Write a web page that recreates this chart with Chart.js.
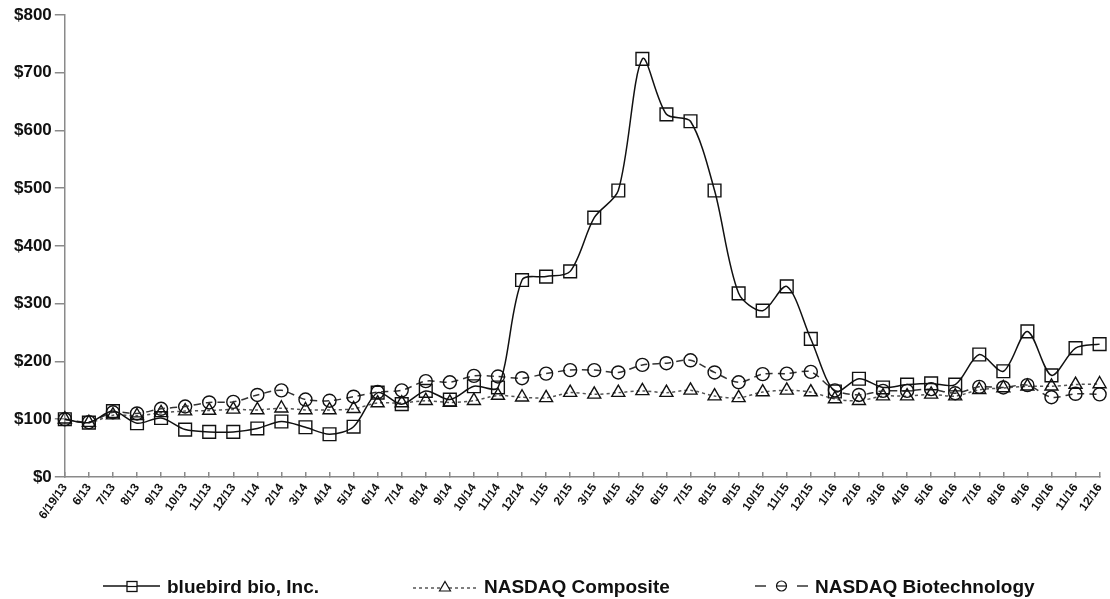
<!DOCTYPE html>
<html>
<head>
<meta charset="utf-8">
<script src="https://cdn.jsdelivr.net/npm/chart.js@4"></script>
<style>
  html, body { margin: 0; padding: 0; background: #fff; }
  #wrap { position: relative; width: 1110px; height: 599px; overflow: hidden; }
  #legend { position: absolute; left: 0; top: 576px; width: 1110px; height: 22px;
            font-family: "Liberation Sans", Arial, sans-serif; font-weight: bold; font-size: 19px; color: #111; }
  .legend-item { position: absolute; top: 0; white-space: nowrap; line-height: 22px; }
  .legend-item svg { vertical-align: middle; margin-right: 7px; position: relative; top: -2px; }
</style>
</head>
<body>
<div id="wrap">
  <canvas id="chart" width="1110" height="599"></canvas>
  <div id="legend"></div>
</div>
<script>
// 月份标签
const labels = ['6/19/13', '6/13', '7/13', '8/13', '9/13', '10/13', '11/13', '12/13',
  '1/14', '2/14', '3/14', '4/14', '5/14', '6/14', '7/14', '8/14', '9/14', '10/14', '11/14', '12/14',
  '1/15', '2/15', '3/15', '4/15', '5/15', '6/15', '7/15', '8/15', '9/15', '10/15', '11/15', '12/15',
  '1/16', '2/16', '3/16', '4/16', '5/16', '6/16', '7/16', '8/16', '9/16', '10/16', '11/16', '12/16'];

// 三条序列
const bluebird = [100, 94, 114, 93, 102, 82, 78, 78, 84, 96, 86, 74, 87, 146, 126, 149, 134, 157, 155, 341,
  347, 356, 449, 496, 724, 628, 616, 496, 318, 288, 330, 239,
  148, 170, 155, 160, 162, 160, 212, 183, 252, 176, 223, 230];
const nasdaqComposite = [100, 94, 107, 106, 111, 114, 115, 117, 116, 119, 116, 116, 118, 128, 128, 132, 129, 132, 141, 138,
  137, 146, 143, 146, 149, 146, 150, 140, 137, 147, 150, 147,
  135, 132, 140, 140, 143, 140, 151, 154, 157, 157, 160, 161];
const nasdaqBiotech = [100, 95, 112, 110, 118, 122, 129, 130, 142, 150, 134, 132, 139, 147, 150, 166, 164, 175, 174, 171,
  179, 185, 185, 181, 194, 197, 202, 181, 164, 178, 179, 182,
  150, 142, 149, 149, 152, 145, 156, 155, 159, 138, 144, 143];

const seriesNames = ['bluebird bio, Inc.', 'NASDAQ Composite', 'NASDAQ Biotechnology'];

// y轴范围
const yMin = 0, yMax = 800, yStep = 100;

const AXIS_COLOR = '#8a8a8a';
const FONT = '"Liberation Sans", Arial, sans-serif';

function lineSeries(label, data, opts) {
  return Object.assign({
    label: label,
    data: data,
    borderColor: '#111',
    borderWidth: 1.5,
    pointBackgroundColor: 'rgba(0,0,0,0)',
    pointBorderColor: '#111',
    pointBorderWidth: 1.4,
    tension: 0.3,
    fill: false,
    clip: false
  }, opts);
}

new Chart(document.getElementById('chart'), {
  type: 'line',
  data: {
    labels: labels,
    datasets: [
      lineSeries(seriesNames[0], bluebird, { pointStyle: 'rect', pointRadius: 9, order: 1 }),
      lineSeries(seriesNames[1], nasdaqComposite, {
        borderColor: '#555', borderDash: [3, 3], pointStyle: 'triangle', pointRadius: 7.5, order: 3
      }),
      lineSeries(seriesNames[2], nasdaqBiotech, {
        borderColor: '#333', borderDash: [7, 5], pointStyle: 'circle', pointRadius: 6.5, order: 2
      })
    ]
  },
  options: {
    responsive: false,
    animation: false,
    devicePixelRatio: 1,
    layout: { padding: { top: 15, left: 11, right: 0, bottom: 68 } },
    plugins: {
      legend: { display: false },
      tooltip: { enabled: false }
    },
    scales: {
      x: {
        offset: false,
        // x轴刻度朝上
        grid: { drawOnChartArea: false, tickLength: -5, color: AXIS_COLOR, lineWidth: 1.5 },
        border: { color: AXIS_COLOR, width: 1.5 },
        ticks: {
          autoSkip: false, minRotation: 55, maxRotation: 55, padding: 9,
          color: '#111', font: { family: FONT, weight: 'bold', size: 12 }
        },
        // 让最后一个点贴近右边缘
        afterFit: function(scale) { scale.paddingRight = 0; }
      },
      y: {
        min: yMin, max: yMax,
        grid: { drawOnChartArea: false, tickLength: 10, color: AXIS_COLOR, lineWidth: 1.5 },
        border: { color: AXIS_COLOR, width: 1.5 },
        ticks: {
          stepSize: yStep, padding: 3, color: '#111',
          font: { family: FONT, weight: 'bold', size: 17 },
          callback: function(v) { return '$' + v; }
        }
      }
    }
  }
});

// 图例（线型 + 标记）
const legendDiv = document.getElementById('legend');
const legendLeft = [103, 413, 755];
const legendSvg = [
  '<svg width="57" height="14"><line x1="0" y1="7" x2="57" y2="7" stroke="#111" stroke-width="1.5"/>' +
    '<rect x="24" y="2.5" width="10" height="10" fill="#fff" stroke="#111" stroke-width="1.3"/>' +
    '<line x1="24" y1="7.5" x2="34" y2="7.5" stroke="#111" stroke-width="1.2"/></svg>',
  '<svg width="64" height="14"><line x1="0" y1="9" x2="64" y2="9" stroke="#555" stroke-width="1.5" stroke-dasharray="3 3"/>' +
    '<polygon points="32,2.5 37.5,12 26.5,12" fill="#fff" stroke="#111" stroke-width="1.2"/></svg>',
  '<svg width="53" height="14"><line x1="0" y1="7" x2="11" y2="7" stroke="#333" stroke-width="1.5"/>' +
    '<line x1="42" y1="7" x2="53" y2="7" stroke="#333" stroke-width="1.5"/>' +
    '<circle cx="26.5" cy="7" r="5" fill="none" stroke="#111" stroke-width="1.2"/>' +
    '<line x1="21.5" y1="7" x2="31.5" y2="7" stroke="#111" stroke-width="1.2"/></svg>'
];
seriesNames.forEach(function(name, i) {
  const item = document.createElement('div');
  item.className = 'legend-item';
  item.style.left = legendLeft[i] + 'px';
  item.innerHTML = legendSvg[i] + '<span>' + name + '</span>';
  legendDiv.appendChild(item);
});
</script>
</body>
</html>
